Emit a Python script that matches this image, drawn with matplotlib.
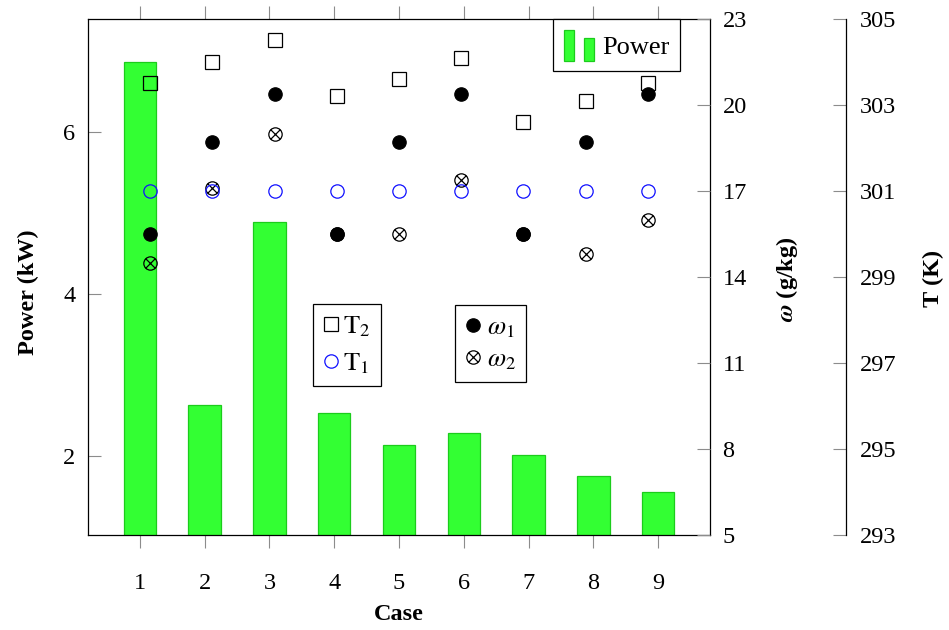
import matplotlib
matplotlib.use("Agg")
import matplotlib.pyplot as plt
import numpy as np
from matplotlib.path import Path
from matplotlib.patches import Rectangle
from matplotlib.legend_handler import HandlerBase

plt.rcParams["font.family"] = ["Liberation Serif", "DejaVu Serif"]
plt.rcParams["mathtext.fontset"] = "stix"

FS = 17.5
LEG_FS = 19

# ---- data ----
cases = [1, 2, 3, 4, 5, 6, 7, 8, 9]
power_kw = [6.87, 2.64, 4.90, 2.54, 2.14, 2.29, 2.02, 1.76, 1.56]
omega_1 = [15.5, 18.7, 20.4, 15.5, 18.7, 20.4, 15.5, 18.7, 20.4]
omega_2 = [14.5, 17.1, 19.0, 15.5, 15.5, 17.4, 15.5, 14.8, 16.0]
temp_1 = [301.0, 301.0, 301.0, 301.0, 301.0, 301.0, 301.0, 301.0, 301.0]
temp_2 = [303.5, 304.0, 304.5, 303.2, 303.6, 304.1, 302.6, 303.1, 303.5]

power_ticks = [2, 4, 6]
omega_ticks = [5, 8, 11, 14, 17, 20, 23]
temp_ticks = [293, 295, 297, 299, 301, 303, 305]

BAR_FACE = "#33ff33"
BAR_EDGE = "#1ccc1c"
TICK_GRAY = "#8c8c8c"

# circled-cross marker: unit circle plus both diagonals
_s = np.sqrt(0.5)
OTIMES = Path.make_compound_path(
    Path.unit_circle(),
    Path([(-_s, -_s), (_s, _s)], [Path.MOVETO, Path.LINETO]),
    Path([(-_s, _s), (_s, -_s)], [Path.MOVETO, Path.LINETO]),
)

W, H = 949, 630
fig = plt.figure(figsize=(W / 100, H / 100), dpi=100)
x0, x1, y0, y1 = 88, 710, 19, 535
rect = [x0 / W, 1 - y1 / H, (x1 - x0) / W, (y1 - y0) / H]

# ---- power bars ----
ax = fig.add_axes(rect)
ax.bar(cases, power_kw, width=0.5, color=BAR_FACE, edgecolor=BAR_EDGE,
       linewidth=0.9, zorder=2, label="Power")
ax.set_xlim(0.2, 9.8)
ax.set_ylim(1.03, 7.40)
ax.set_xticks(cases)
ax.set_yticks(power_ticks)
ax.tick_params(axis="x", direction="out", length=9.5, width=0.8,
               color=TICK_GRAY, top=True, labeltop=False, pad=18, labelsize=FS)
ax.tick_params(axis="y", direction="in", length=9.5, width=0.8,
               color=TICK_GRAY, left=True, right=False, pad=9, labelsize=FS)
for sp in ax.spines.values():
    sp.set_linewidth(0.9)


class TwoBarHandler(HandlerBase):
    def create_artists(self, legend, orig_handle, xdescent, ydescent,
                       width, height, fontsize, trans):
        bw = width * 0.34
        r1 = Rectangle((-xdescent, -ydescent), bw, height,
                       facecolor=BAR_FACE, edgecolor=BAR_EDGE, lw=0.9,
                       transform=trans)
        r2 = Rectangle((-xdescent + width - bw, -ydescent), bw, height * 0.74,
                       facecolor=BAR_FACE, edgecolor=BAR_EDGE, lw=0.9,
                       transform=trans)
        return [r1, r2]


bar_handle = Rectangle((0, 0), 1, 1)
leg_p = ax.legend([bar_handle], ["Power"], handler_map={Rectangle: TwoBarHandler()},
                  loc="upper left", bbox_to_anchor=((553 - x0) / (x1 - x0), 1.0),
                  borderaxespad=0, fancybox=False, edgecolor="black",
                  framealpha=1, fontsize=LEG_FS, handlelength=1.15, handleheight=1.45,
                  handletextpad=0.3, borderpad=0.4)
leg_p.get_frame().set_linewidth(0.9)

# ---- humidity ratio markers ----
axw = fig.add_axes(rect, frameon=False)
axw.patch.set_visible(False)
axw.set_xlim(0, 10)
axw.set_ylim(5, 23)
axw.xaxis.set_visible(False)
axw.yaxis.tick_right()
axw.set_yticks(omega_ticks)
axw.tick_params(axis="y", direction="in", length=9.5, width=0.8,
                color=TICK_GRAY, pad=9, labelsize=FS)
ms = 9.6
h_w2, = axw.plot(cases, omega_2, linestyle="none", marker=OTIMES, markersize=ms,
                 markerfacecolor="none", markeredgecolor="black", markeredgewidth=0.9)
h_w1, = axw.plot(cases, omega_1, linestyle="none", marker="o", markersize=ms,
                 markerfacecolor="black", markeredgecolor="black", markeredgewidth=0.9)

# ---- temperature markers ----
axT = fig.add_axes(rect)
axT.patch.set_visible(False)
for name in ("left", "top", "bottom"):
    axT.spines[name].set_visible(False)
axT.spines["right"].set_position(("axes", (846 - x0) / (x1 - x0)))
axT.spines["right"].set_linewidth(0.9)
axT.set_xlim(0, 10)
axT.set_ylim(293, 305)
axT.xaxis.set_visible(False)
axT.yaxis.tick_right()
axT.set_yticks(temp_ticks)
axT.tick_params(axis="y", direction="in", length=9.5, width=0.8,
                color=TICK_GRAY, pad=10, labelsize=FS)
h_t2, = axT.plot(cases, temp_2, linestyle="none", marker="s", markersize=ms,
                 markerfacecolor="none", markeredgecolor="black", markeredgewidth=0.9)
h_t1, = axT.plot(cases, temp_1, linestyle="none", marker="o", markersize=ms,
                 markerfacecolor="none", markeredgecolor="#1010ff", markeredgewidth=0.9)

leg_t = axT.legend([h_t2, h_t1], [r"$\mathrm{T}_2$", r"$\mathrm{T}_1$"],
                   loc="upper left",
                   bbox_to_anchor=((313 - x0) / (x1 - x0), 1 - (304 - y0) / (y1 - y0)),
                   borderaxespad=0, fancybox=False, edgecolor="black", framealpha=1,
                   fontsize=LEG_FS, handlelength=0.55, handletextpad=0.2,
                   labelspacing=0.45, borderpad=0.4)
leg_t.get_frame().set_linewidth(0.9)
axT.add_artist(leg_t)
leg_w = axT.legend([h_w1, h_w2], [r"$\omega_1$", r"$\omega_2$"],
                   loc="upper left",
                   bbox_to_anchor=((455 - x0) / (x1 - x0), 1 - (305 - y0) / (y1 - y0)),
                   borderaxespad=0, fancybox=False, edgecolor="black", framealpha=1,
                   fontsize=LEG_FS, handlelength=0.55, handletextpad=0.25,
                   labelspacing=0.3, borderpad=0.4)
leg_w.get_frame().set_linewidth(0.9)

# ---- axis titles ----
fig.text(28 / W, 1 - 292 / H, "Power (kW)", rotation=90, ha="center", va="center",
         fontsize=FS, fontweight="bold")
fig.text(787 / W, 1 - 279 / H, r"$\mathbfit{\omega}$ (g/kg)", rotation=90,
         ha="center", va="center", fontsize=FS, fontweight="bold")
fig.text(933 / W, 1 - 278 / H, "T (K)", rotation=90, ha="center", va="center",
         fontsize=FS, fontweight="bold")
fig.text(399 / W, 1 - 614 / H, "Case", ha="center", va="center",
         fontsize=FS, fontweight="bold")

fig.savefig("out.png", dpi=100)
